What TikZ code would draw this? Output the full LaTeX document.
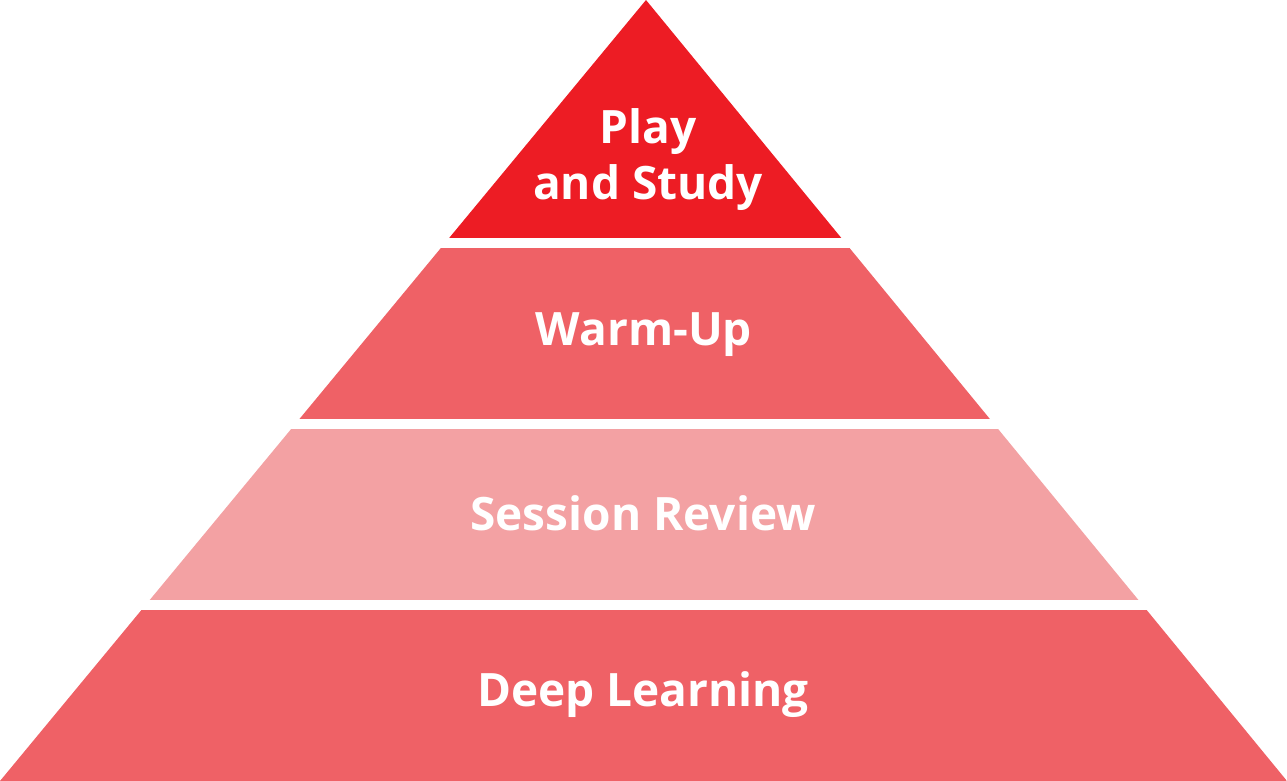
\documentclass[tikz,border=0pt]{standalone}
\usepackage{fontspec}
\setmainfont{Open Sans}
\definecolor{topred}{HTML}{ED1C24}
\definecolor{midred}{HTML}{EF6166}
\definecolor{lightred}{HTML}{F3A1A3}
\tikzset{
  lbl/.style={text=white, font=\fontsize{46}{56}\selectfont\bfseries, align=center, inner sep=0pt},
}
\begin{document}
\begin{tikzpicture}[x=1pt,y=-1pt]
\useasboundingbox (0,0) rectangle (1287,781);
\coordinate (apex) at (646,0);
\coordinate (bl) at (0,781);
\coordinate (br) at (1287,781);
\begin{scope}
\clip (apex) -- (bl) -- (br) -- cycle;
\fill[topred] (0,0) rectangle (1287,238);
\fill[midred] (0,248) rectangle (1287,419);
\fill[lightred] (0,429) rectangle (1287,600);
\fill[midred] (0,610) rectangle (1287,781);
\end{scope}
\node[lbl] (play) at (648,160) {Play\\and Study};
\node[lbl, anchor=base] (warm) at (644,345) {Warm-Up};
\node[lbl, anchor=base] (sess) at (643,530) {Session Review};
\node[lbl, anchor=base] (deep) at (643,706) {Deep Learning};
\end{tikzpicture}
\end{document}
